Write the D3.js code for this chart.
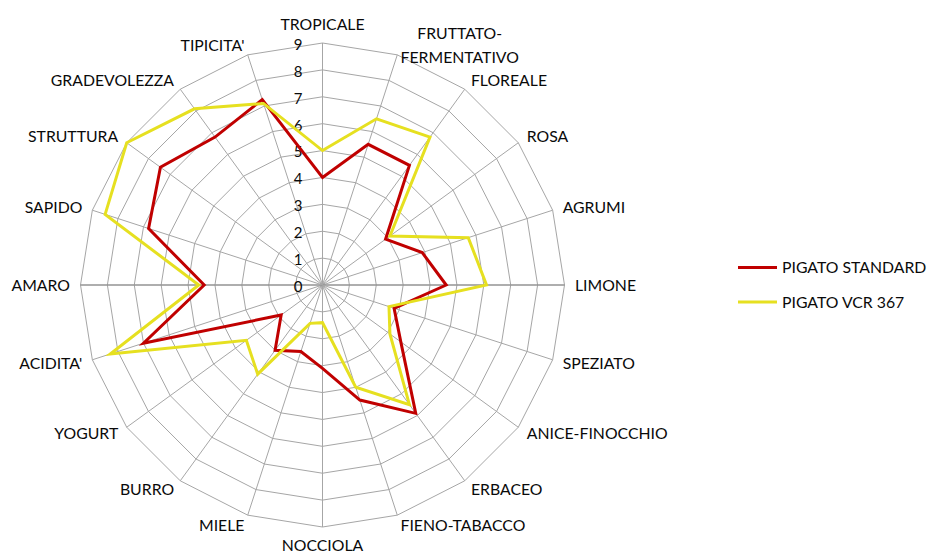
<!DOCTYPE html>
<html><head><meta charset="utf-8">
<script src="https://cdn.jsdelivr.net/npm/d3@7"></script>
<style>body{margin:0;background:#fff}svg{display:block}text{font-family:Lato,"Open Sans",sans-serif;fill:#0a0a0a}</style>
</head><body>
<svg id="c" width="929" height="556"></svg>
<script>
const categories = ["TROPICALE","FRUTTATO-\nFERMENTATIVO","FLOREALE","ROSA","AGRUMI","LIMONE","SPEZIATO","ANICE-FINOCCHIO","ERBACEO","FIENO-TABACCO","NOCCIOLA","MIELE","BURRO","YOGURT","ACIDITA'","AMARO","SAPIDO","STRUTTURA","GRADEVOLEZZA","TIPICITA'"];
const standard = [4, 5.5, 5.5, 2.9, 3.9, 4.6, 2.8, 3.6, 5.9, 4.5, 3.1, 2.6, 3.0, 1.9, 7.0, 4.4, 6.8, 7.45, 6.8, 7.25];
const vcr367   = [5, 6.5, 6.8, 3.1, 5.7, 6.1, 2.6, 3.1, 5.5, 4.0, 1.4, 1.5, 4.1, 3.5, 8.3, 4.6, 8.5, 9.0, 8.1, 7.1];
const ticks = [0,1,2,3,4,5,6,7,8,9];
const seriesNames = ["PIGATO STANDARD","PIGATO VCR 367"];
const colors = ["#C00000","#E6E020"];

const svg = d3.select("#c");
const cx = 322.5, cy = 285, R = 242;
const r = d3.scaleLinear().domain([0,9]).range([0,R]);
const ang = d3.scalePoint().domain(d3.range(categories.length)).range([0, 2*Math.PI*(categories.length-1)/categories.length]);
const pt = (i,v)=>[cx + r(v)*Math.sin(ang(i)), cy - r(v)*Math.cos(ang(i))];
const g = svg.append("g");
// rings
ticks.slice(1).forEach(t=>{
  g.append("path").attr("d", d3.line()(categories.map((c,i)=>pt(i,t)))+"Z")
   .attr("fill","none").attr("stroke","#a6a6a6").attr("stroke-width",1);
});
// spokes
categories.forEach((c,i)=>{
  const [x,y]=pt(i,9);
  const horiz = (i==5||i==15);
  g.append("line").attr("x1",cx).attr("y1",cy).attr("x2",x).attr("y2",y)
   .attr("stroke", horiz?"#939393":"#a6a6a6").attr("stroke-width",horiz?1.6:1);
});
// tick labels
ticks.forEach(t=>{
  g.append("text").attr("x",cx-20).attr("y",cy-r(t)+1.5).attr("dy","0.36em")
   .attr("text-anchor","end").style("font-size","15px").text(t);
});
// series
[standard, vcr367].forEach((s,k)=>{
  g.append("path").attr("d", d3.line()(s.map((v,i)=>pt(i,v)))+"Z")
   .attr("fill","none").attr("stroke",colors[k]).attr("stroke-width",3).attr("stroke-linejoin","miter");
});
// category labels
const FS = 15.8, LH = 24;
categories.forEach((c,i)=>{
  const a=ang(i), s=Math.sin(a), co=Math.cos(a);
  const [vx,vy]=pt(i,9);
  const px = vx + 10.5*s, py = vy - 10.5*co;
  const lines=c.split("\n");
  const anchor = Math.abs(s)<0.01 ? "middle" : (s>0 ? "start" : "end");
  let ax = px;
  if (lines.length>1) {
    const tmp = g.append("text").style("font-size",FS+"px");
    const ws = lines.map(l=>{tmp.text(l); return tmp.node().getComputedTextLength();});
    tmp.remove();
    const w = Math.max(...ws);
    ax = s>0 ? px + w/2 : px - w/2;
  }
  const useAnchor = lines.length>1 ? "middle" : anchor;
  const n = lines.length;
  let yc = py;
  const half = (n-1)*LH/2 + FS*0.5;
  if (Math.abs(s)<0.01) yc = co>0 ? py - half : py + half;
  const t=g.append("text").attr("text-anchor",useAnchor).style("font-size",FS+"px");
  lines.forEach((l,j)=>t.append("tspan").attr("x",ax).attr("y", yc - (n-1)*LH/2 + j*LH).attr("dy","0.36em").text(l));
});
// legend
seriesNames.forEach((n,k)=>{
  const y = 267.5 + k*34.5;
  svg.append("line").attr("x1",738).attr("x2",777).attr("y1",y).attr("y2",y).attr("stroke",colors[k]).attr("stroke-width",3);
  svg.append("text").attr("x",782).attr("y",y).attr("dy","0.36em").style("font-size",FS+"px").text(n);
});
</script>
</body></html>
